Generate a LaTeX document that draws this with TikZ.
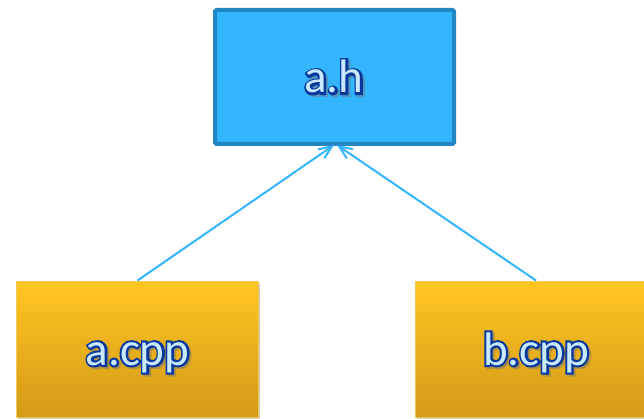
\documentclass[tikz,border=0pt]{standalone}
\usepackage{fontspec}
\setmainfont{Carlito}
\usetikzlibrary{arrows.meta,shadows}
\definecolor{hfill}{HTML}{33B5FF}
\definecolor{hborder}{HTML}{2286C2}
\definecolor{ytop}{HTML}{FFC622}
\definecolor{ybot}{HTML}{D39A18}
\definecolor{yedge}{HTML}{F2C85A}
\definecolor{txtfill}{HTML}{C8EAFF}
\definecolor{txtline}{HTML}{0A3FA6}
\definecolor{arrowc}{HTML}{33B5FF}
\newcommand{\outlinetext}[1]{\special{pdf:literal direct 2 Tr 4.2 w 0.03 0.22 0.62 RG 0.03 0.22 0.62 rg}#1\special{pdf:literal direct 0 Tr}}
\newcommand{\shadowtext}[1]{\special{pdf:literal direct 2 Tr 4.2 w 0.45 0.45 0.45 RG 0.45 0.45 0.45 rg}#1\special{pdf:literal direct 0 Tr}}
\tikzset{
  hbox/.style={draw=hborder, line width=4pt, fill=hfill, rounded corners=1.5pt, minimum width=239pt, minimum height=134pt, inner sep=0pt},
  cppbox/.style={draw=yedge, line width=1pt, top color=ytop, bottom color=ybot, minimum width=242pt, minimum height=136pt, inner sep=0pt,
    drop shadow={shadow xshift=1.5pt, shadow yshift=-1.5pt, opacity=0.35, fill=black!60}},
  lbl/.style={font=\fontsize{47}{47}\selectfont, inner sep=0pt, anchor=base},
  lblfill/.style={lbl, text=txtfill},
  lblshadow/.style={lbl, opacity=0.45},
  dep/.style={draw=arrowc, line width=2pt, -{Straight Barb[length=13pt, width=11pt, line width=2pt]}}
}
\begin{document}
\begin{tikzpicture}[x=1pt,y=-1pt]
\useasboundingbox (0,0) rectangle (644,419);
\node[hbox] (ah) at (334.5,77) {};
\node[cppbox] (acpp) at (137.5,349) {};
\node[cppbox] (bcpp) at (536,349) {};
\node[lblshadow] (sah) at (336,95) {\shadowtext{a.h}};
\node[lbl] (oah) at (334,93) {\outlinetext{a.h}};
\node[lblfill] (tah) at (334,93) {a.h};
\node[lblshadow] (sacpp) at (139.5,367) {\shadowtext{a.cpp}};
\node[lbl] (oacpp) at (137.5,365) {\outlinetext{a.cpp}};
\node[lblfill] (tacpp) at (137.5,365) {a.cpp};
\node[lblshadow] (sbcpp) at (538,367) {\shadowtext{b.cpp}};
\node[lbl] (obcpp) at (536,365) {\outlinetext{b.cpp}};
\node[lblfill] (tbcpp) at (536,365) {b.cpp};
\coordinate (tipl) at (334,145);
\coordinate (tipr) at (337,145);
\draw[dep] (acpp.north) -- (tipl);
\draw[dep] (bcpp.north) -- (tipr);
\end{tikzpicture}
\end{document}
